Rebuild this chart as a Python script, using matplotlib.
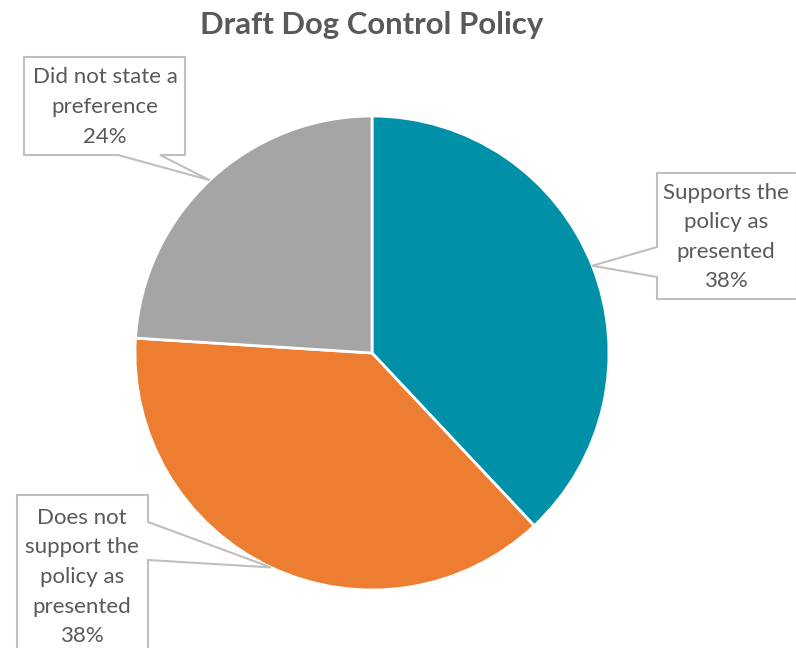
import numpy as np
import matplotlib.pyplot as plt
from matplotlib.patches import Polygon

# chart data
labels = ["Supports the\npolicy as\npresented", "Does not\nsupport the\npolicy as\npresented",
          "Did not state a\npreference"]
values = [38, 38, 24]
colors = ["#0090A8", "#ED7D31", "#A5A5A5"]

W, H = 796, 648
cx, cy, r = 372, 353, 237   # pie centre / radius in pixels (y measured from top)

# callout boxes: (x0, y0, x1, y1) in pixels from top-left, side where the pointer leaves, pointer gap
boxes = [(657, 173, 797, 299), (17, 495, 148, 662), (24, 57, 185, 155)]
sides = ["left", "right", "bottom"]
gaps = [(247, 277), (522, 560), (118, 160)]
# where the middle of each label sits (pixels from top-left)
text_xy = [(726, 237), (82, 577), (105, 107)]

text_col = "#595959"
plt.rcParams['font.family'] = ['Lato', 'DejaVu Sans']

fig = plt.figure(figsize=(W / 100, H / 100), dpi=100)
ax = fig.add_axes([0, 0, 1, 1])
ax.axis('off')

wedges, _ = ax.pie(values, colors=colors, startangle=90, counterclock=False,
                   center=(cx, H - cy), radius=r,
                   wedgeprops=dict(edgecolor='white', linewidth=2))
ax.set_xlim(0, W)
ax.set_ylim(0, H)


def fy(y):
    return H - y


for w, lab, v, box, side, gap, txy in zip(wedges, labels, values, boxes, sides, gaps, text_xy):
    mid = np.deg2rad((w.theta1 + w.theta2) / 2)
    tip = (cx + r * np.cos(mid), fy(cy) + r * np.sin(mid))
    x0, y0, x1, y1 = box
    g0, g1 = gap
    if side == "bottom":
        pts = [(x0, y0), (x1, y0), (x1, y1), (g1, y1), None, (g0, y1), (x0, y1)]
    elif side == "left":
        pts = [(x0, y0), (x1, y0), (x1, y1), (x0, y1), (x0, g1), None, (x0, g0)]
    else:
        pts = [(x0, y0), (x1, y0), (x1, g0), None, (x1, g1), (x1, y1), (x0, y1)]
    verts = [tip if p is None else (p[0], fy(p[1])) for p in pts]
    ax.add_patch(Polygon(verts, closed=True, facecolor='white', edgecolor='#BFBFBF',
                         linewidth=1.5, zorder=3))
    ax.text(txy[0], fy(txy[1]), lab + "\n%d%%" % v, ha='center', va='center',
            fontsize=16, color=text_col, linespacing=1.6, zorder=4)

fig.text(372 / W, 1 - 25 / H, "Draft Dog Control Policy", ha='center', va='center',
         fontsize=22.4, fontweight='bold', color=text_col)

fig.savefig("out.png", dpi=100)
